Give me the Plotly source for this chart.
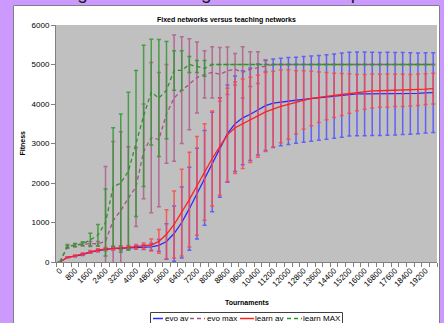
import plotly.graph_objects as go

# ---------------- data ----------------
tournaments = [0, 400, 800, 1200, 1600, 2000, 2400, 2800, 3200, 3600,
               4000, 4400, 4800, 5200, 5600, 6000, 6400, 6800, 7200, 7600,
               8000, 8400, 8800, 9200, 9600, 10000, 10400, 10800, 11200, 11600,
               12000, 12400, 12800, 13200, 13600, 14000, 14400, 14800, 15200, 15600,
               16000, 16400, 16800, 17200, 17600, 18000, 18400, 18800, 19200, 19600]

tick_labels = ["0", "800", "1600", "2400", "3200", "4000", "4800", "5600", "6400", "7200",
               "8000", "8800", "9600", "10400", "11200", "12000", "12800", "13600", "14400",
               "15200", "16000", "16800", "17600", "18400", "19200"]
tick_positions = [0, 800, 1600, 2400, 3200, 4000, 4800, 5600, 6400, 7200,
                  8000, 8800, 9600, 10400, 11200, 12000, 12800, 13600, 14400,
                  15200, 16000, 16800, 17600, 18400, 19200]

evo_av = [0, 120, 150, 190, 250, 290, 320, 340, 350, 360,
          370, 375, 385, 420, 520, 720, 1000, 1350, 1730, 2130,
          2530, 2900, 3250, 3500, 3650, 3740, 3860, 3960, 4020, 4050,
          4075, 4095, 4115, 4135, 4155, 4175, 4200, 4225, 4250, 4255,
          4255, 4255, 4255, 4260, 4260, 4265, 4265, 4270, 4280, 4290]
evo_av_err = [0, 15, 20, 25, 30, 30, 30, 35, 40, 40,
              50, 60, 90, 150, 450, 700, 900, 1050, 1150, 1200,
              1260, 1260, 1230, 1210, 1190, 1170, 1150, 1140, 1120, 1110,
              1100, 1090, 1085, 1080, 1075, 1070, 1065, 1065, 1060, 1060,
              1060, 1055, 1050, 1050, 1045, 1040, 1030, 1020, 1015, 1010]

evo_max = [0, 380, 420, 450, 470, 460, 520, 1050, 1300, 1620,
           1900, 2800, 3150, 3100, 3750, 4150, 4350, 4500, 4670, 4750,
           4800, 4750, 4840, 4880, 4800, 4880, 4920, 4970, 5000, 5000,
           5000, 5000, 5000, 5000, 5000, 5000, 5000, 5000, 5000, 5000,
           5000, 5000, 5000, 5000, 5000, 5000, 5000, 5000, 5000, 5000]
evo_max_err = [0, 30, 40, 40, 50, 60, 1900, 2000, 2000, 1300,
               1000, 1200, 1900, 1700, 1250, 1600, 1350, 1150, 900, 600,
               650, 680, 600, 400, 650, 440, 400, 150, 0, 0,
               0, 0, 0, 0, 0, 0, 0, 0, 0, 0,
               0, 0, 0, 0, 0, 0, 0, 0, 0, 0]

learn_av = [0, 120, 155, 200, 260, 300, 330, 350, 360, 370,
            385, 400, 430, 520, 700, 950, 1250, 1580, 1930, 2280,
            2620, 2920, 3220, 3400, 3500, 3600, 3690, 3800, 3870, 3940,
            3990, 4040, 4100, 4140, 4170, 4200, 4220, 4240, 4265, 4290,
            4310, 4330, 4335, 4340, 4345, 4345, 4350, 4360, 4375, 4390]
learn_av_err = [0, 15, 20, 25, 30, 35, 40, 40, 50, 50,
                60, 80, 150, 300, 620, 850, 1100, 1200, 1250, 1220,
                1200, 1230, 1180, 1160, 1130, 1080, 1040, 1000, 960, 920,
                880, 800, 740, 690, 640, 600, 560, 530, 500, 460,
                440, 430, 420, 420, 410, 410, 400, 400, 390, 390]

learn_max = [0, 400, 430, 460, 560, 680, 1000, 1900, 2000, 2300,
             3000, 3700, 4300, 4150, 4350, 4850, 4850, 5000, 4950, 4900,
             5000, 5000, 5000, 5000, 5000, 5000, 5000, 5000, 5000, 5000,
             5000, 5000, 5000, 5000, 5000, 5000, 5000, 5000, 5000, 5000,
             5000, 5000, 5000, 5000, 5000, 5000, 5000, 5000, 5000, 5000]
learn_max_err = [0, 40, 40, 50, 170, 270, 850, 1500, 1750, 2000,
                 1850, 1790, 1340, 1480, 1230, 500, 500, 200, 150, 200,
                 0, 0, 0, 0, 0, 0, 0, 0, 0, 0,
                 0, 0, 0, 0, 0, 0, 0, 0, 0, 0,
                 0, 0, 0, 0, 0, 0, 0, 0, 0, 0]

series_names = ["evo av", "evo max", "learn av", "learn MAX"]

# ---------------- style ----------------
FONT = "Liberation Sans, Arial, sans-serif"
W, H = 444, 323
PL, PR, PT, PB = 56, 437, 25, 262   # plot area in pixels

def px_x(px):
    return (px - PL) / (PR - PL)

def px_y(py):
    return (PB - py) / (PB - PT)

C_BLUE, C_BLUE_E = "#2a2aff", "rgba(80,80,255,0.85)"
C_MAUVE, C_MAUVE_E = "#a8508a", "rgba(176,90,140,0.85)"
C_RED, C_RED_E = "#ff2020", "rgba(255,70,70,0.85)"
C_GREEN, C_GREEN_E = "#2a962a", "rgba(50,150,50,0.85)"
VIOLET = "#cc99ff"

fig = go.Figure()

def add(y, err, name, color, ecolor, dash):
    fig.add_trace(go.Scatter(
        x=tournaments, y=y, name=name, mode="lines",
        line=dict(color=color, width=1.3, dash=dash),
        error_y=dict(type="data", array=err, symmetric=True,
                     color=ecolor, thickness=1.5, width=2),
        showlegend=False))

add(evo_av, evo_av_err, series_names[0], C_BLUE, C_BLUE_E, "solid")
add(evo_max, evo_max_err, series_names[1], C_MAUVE, C_MAUVE_E, "4px,3px")
add(learn_av, learn_av_err, series_names[2], C_RED, C_RED_E, "solid")
add(learn_max, learn_max_err, series_names[3], C_GREEN, C_GREEN_E, "4px,3px")

boundaries = [-200 + 400 * k for k in range(51)]

fig.update_xaxes(
    range=[-200, 19800], tickmode="array", tickvals=tick_positions, ticktext=tick_labels,
    tickangle=-45, ticks="", showgrid=False, zeroline=False, automargin=False,
    showline=True, linecolor="#808080", linewidth=1,
    tickfont=dict(family=FONT, size=8, color="#000"),
    minor=dict(tickmode="array", tickvals=boundaries, ticks="outside", ticklen=4,
               tickcolor="#808080", tickwidth=1, showgrid=False))
fig.update_yaxes(
    range=[0, 6000], tickmode="array", tickvals=[0, 1000, 2000, 3000, 4000, 5000, 6000],
    ticks="outside", ticklen=4, tickcolor="#808080", showgrid=False, zeroline=False,
    showline=True, linecolor="#808080", linewidth=1, automargin=False,
    tickfont=dict(family=FONT, size=8, color="#000"))

shapes = []
# violet slide background around the chart object
for (x0, y0, x1, y1) in [(0, 0, 13, H), (440, 0, W, H), (0, 0, W, 5)]:
    shapes.append(dict(type="rect", xref="paper", yref="paper",
                       x0=px_x(x0), x1=px_x(x1), y0=px_y(y0), y1=px_y(y1),
                       fillcolor=VIOLET, line=dict(width=0), layer="above"))
shapes.append(dict(type="rect", xref="paper", yref="paper",
                   x0=px_x(13.5), x1=px_x(439.5), y0=px_y(5.5), y1=px_y(340),
                   line=dict(color="#808080", width=1), layer="above"))
# legend box
shapes.append(dict(type="rect", xref="paper", yref="paper",
                   x0=px_x(150.5), x1=px_x(342.5), y0=px_y(312.5), y1=px_y(340),
                   fillcolor="white", line=dict(color="#404040", width=1), layer="above"))

legend_items = [(153, 163, C_BLUE, "solid"), (190, 205, C_MAUVE, "4px,3px"),
                (240, 254, C_RED, "solid"), (287, 302, C_GREEN, "4px,3px")]
legend_text_x = [163, 205, 253, 301]
for (x0, x1, col, dsh) in legend_items:
    shapes.append(dict(type="line", xref="paper", yref="paper",
                       x0=px_x(x0), x1=px_x(x1), y0=px_y(318.5), y1=px_y(318.5),
                       line=dict(color=col, width=1.5, dash=dsh), layer="above"))

annotations = []
for name, tx in zip(series_names, legend_text_x):
    annotations.append(dict(xref="paper", yref="paper", x=px_x(tx), y=px_y(318.5),
                            xanchor="left", yanchor="middle", showarrow=False, text=name,
                            font=dict(family=FONT, size=8, color="#000")))

annotations.append(dict(xref="paper", yref="paper", x=px_x(226.5), y=px_y(20.5),
                        xanchor="center", yanchor="middle", showarrow=False,
                        text="<b>Fixed networks versus teaching networks</b>",
                        font=dict(family=FONT, size=7, color="#000")))
annotations.append(dict(xref="paper", yref="paper", x=px_x(246.5), y=px_y(302),
                        xanchor="center", yanchor="middle", showarrow=False,
                        text="<b>Tournaments</b>",
                        font=dict(family=FONT, size=7, color="#000")))
annotations.append(dict(xref="paper", yref="paper", x=px_x(22), y=px_y(143.5),
                        xanchor="center", yanchor="middle", showarrow=False,
                        text="<b>Fitness</b>", textangle=-90,
                        font=dict(family=FONT, size=7, color="#000")))
annotations.append(dict(xref="paper", yref="paper", x=px_x(-6), y=px_y(5),
                        xanchor="left", yanchor="bottom", showarrow=False,
                        text="of the weights shift during the lifetime of a plastic",
                        font=dict(family=FONT, size=19, color="#1a1a1a")))

fig.update_layout(
    width=W, height=H,
    margin=dict(l=PL, r=W - PR, t=PT, b=H - PB, pad=0),
    paper_bgcolor="white", plot_bgcolor="#c0c0c0",
    shapes=shapes, annotations=annotations, showlegend=False,
    font=dict(family=FONT))

fig.write_html("out.html", config={"displayModeBar": False},
               post_script="document.body.style.margin='0';document.body.style.overflow='hidden';")
